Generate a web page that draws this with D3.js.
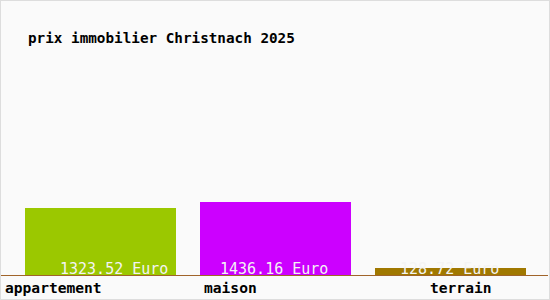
<!DOCTYPE html>
<html lang="fr">
<head>
    <meta charset="UTF-8">
    <title>prix immobilier Christnach 2025</title>
    <style>
        body { margin: 0; background: #fff; }
        svg { display: block; }
    </style>
</head>
<body>
<div id="graph"></div>

<script src="https://cdn.jsdelivr.net/npm/d3@7/dist/d3.min.js"></script>
<script>
    // données
    var categories = ["appartement", "maison", "terrain"];
    var values = [1323.52, 1436.16, 128.72];
    var valueLabels = ["1323.52 Euro", "1436.16 Euro", "128.72 Euro"];
    var title = "prix immobilier Christnach 2025";

    var width = 550;
    var height = 300;
    var baseline = 275;
    var colors = ["#9bc800", "#cc00ff", "#a07800"];
    // décalages des textes par rapport au bord gauche des barres
    var valueDx = [35, 20, 25];
    var catDx = [-20, 4, 55];

    var svg = d3.select("#graph").append("svg")
        .attr("width", width).attr("height", height);

    svg.append("rect")
        .attr("x", 0.5).attr("y", 0.5)
        .attr("width", width - 1).attr("height", height - 1)
        .attr("fill", "#fafafa")
        .attr("stroke", "#dddddd");

    var xScale = d3.scaleBand()
        .domain(categories)
        .range([25, 550])
        .paddingInner(24 / 175)
        .paddingOuter(12 / 175)
        .align(0);

    var yScale = d3.scaleLinear()
        .domain([0, 5400])
        .range([baseline, 0]);

    svg.append("text")
        .attr("x", 28).attr("y", 43)
        .attr("font-family", "'DejaVu Sans Mono', monospace")
        .attr("font-size", 14.3)
        .attr("font-weight", "bold")
        .attr("fill", "#000")
        .text(title);

    // barres
    svg.append("g")
        .selectAll("rect")
        .data(values)
        .enter()
        .append("rect")
        .attr("x", function(d, i) { return xScale(categories[i]); })
        .attr("y", function(d) { return Math.round(yScale(d)); })
        .attr("width", xScale.bandwidth())
        .attr("height", function(d) { return baseline - Math.round(yScale(d)); })
        .attr("fill", function(d, i) { return colors[i]; });

    // ligne de base
    svg.append("line")
        .attr("x1", 1).attr("x2", width - 2)
        .attr("y1", baseline + 0.5).attr("y2", baseline + 0.5)
        .attr("stroke", "#a0642a")
        .attr("stroke-width", 1);

    // valeurs
    svg.append("g")
        .selectAll("text")
        .data(valueLabels)
        .enter()
        .append("text")
        .attr("x", function(d, i) { return xScale(categories[i]) + valueDx[i]; })
        .attr("y", 274)
        .attr("font-family", "'DejaVu Sans Mono', monospace")
        .attr("font-size", 15)
        .attr("fill", "#f4f4f4")
        .text(function(d) { return d; });

    // catégories
    svg.append("g")
        .selectAll("text")
        .data(categories)
        .enter()
        .append("text")
        .attr("x", function(d, i) { return xScale(d) + catDx[i]; })
        .attr("y", 293)
        .attr("font-family", "'DejaVu Sans Mono', monospace")
        .attr("font-size", 14.6)
        .attr("font-weight", "bold")
        .attr("fill", "#000")
        .text(function(d) { return d; });
</script>
</body>
</html>
